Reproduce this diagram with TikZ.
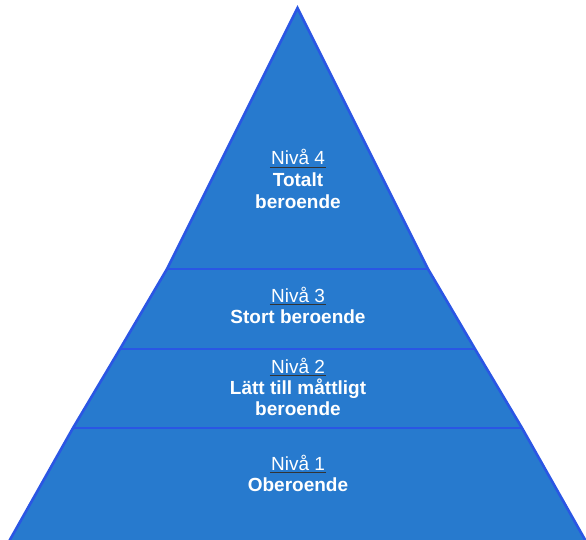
\documentclass[tikz,border=0pt]{standalone}
\usepackage{fontspec}
\setmainfont{Liberation Sans}
\usepackage{tikz}
\usetikzlibrary{calc}
\definecolor{pyrfill}{RGB}{39,122,206}
\definecolor{pyredge}{RGB}{42,86,228}

\begin{document}
\begin{tikzpicture}[x=1pt,y=-1pt,
	face/.style={fill=pyrfill,draw=pyredge,line width=2.6pt},
	divider/.style={draw=pyredge,line width=2.6pt},
	level/.style={anchor=base,inner sep=0pt,text=white,font=\fontsize{19}{22}\selectfont},
	title/.style={level,font=\fontsize{19}{22}\selectfont\bfseries},
	uline/.style={draw=black!80,line width=1.4pt}]
	\useasboundingbox (0,0) rectangle (586,540);
	
	% corners of the pyramid
	\coordinate (top) at (297.5,8);
	\coordinate (l3) at (167,269);
	\coordinate (r3) at (428,269);
	\coordinate (l2) at (120,349);
	\coordinate (r2) at (475,349);
	\coordinate (l1) at (73,428);
	\coordinate (r1) at (522,428);
	\coordinate (bl) at (7,545);
	\coordinate (br) at (588,545);
	
	\draw[face] (top) -- (l3) -- (l2) -- (l1) -- (bl) -- (br) -- (r1) -- (r2) -- (r3) -- cycle;
	\draw[divider] (l3) -- (r3);
	\draw[divider] (l2) -- (r2);
	\draw[divider] (l1) -- (r1);
	
	% level 4
	\node[level] (n4) at (298,165) {Nivå 4};
	\node[title] (t4a) at (298,187) {Totalt};
	\node[title] (t4b) at (298,208) {beroende};
	% level 3
	\node[level] (n3) at (298,302) {Nivå 3};
	\node[title] (t3) at (298,323) {Stort beroende};
	% level 2
	\node[level] (n2) at (298,373) {Nivå 2};
	\node[title] (t2a) at (298,394) {Lätt till måttligt};
	\node[title] (t2b) at (298,415) {beroende};
	% level 1
	\node[level] (n1) at (298,470) {Nivå 1};
	\node[title] (t1) at (298,491) {Oberoende};
	
	\foreach \n in {n1,n2,n3,n4}
		\draw[uline] ([xshift=-1pt,yshift=-2.5pt]\n.base west) -- ([xshift=1pt,yshift=-2.5pt]\n.base east);
\end{tikzpicture}
\end{document}
